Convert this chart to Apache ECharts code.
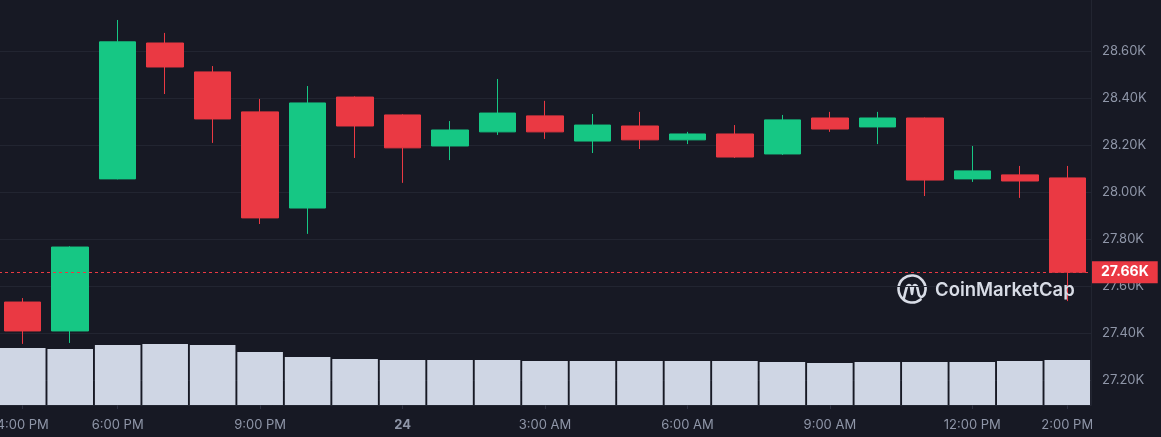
<!DOCTYPE html>
<html>
<head>
<meta charset="utf-8">
<style>
  html, body { margin: 0; padding: 0; background: #171924; }
  #chart { width: 1161px; height: 437px; }
</style>
<script src="https://cdn.jsdelivr.net/npm/echarts@6/dist/echarts.min.js"></script>
</head>
<body>
<div id="chart"></div>
<script>
// ---- data ----
const categories = ['4:00 PM','5:00 PM','6:00 PM','7:00 PM','8:00 PM','9:00 PM','10:00 PM','11:00 PM','24',
  '1:00 AM','2:00 AM','3:00 AM','4:00 AM','5:00 AM','6:00 AM','7:00 AM','8:00 AM','9:00 AM','10:00 AM',
  '11:00 AM','12:00 PM','1:00 PM','2:00 PM'];
const shownLabelIdx = [0, 2, 5, 8, 11, 14, 17, 20, 22];

const opens  = [27533,27410,28057,28635,28512,28342,27933,28405,28329,28197,28257,28325,28218,28282,28223,28248,28163,28316,28278,28316,28057,28074,28061];
const closes = [27410,27767,28640,28533,28312,27891,28380,28282,28189,28265,28337,28257,28286,28223,28248,28150,28308,28269,28316,28052,28091,28048,27660];
const lows   = [27355,27359,28055,28418,28210,27865,27823,28146,28040,28137,28244,28227,28167,28184,28205,28146,28159,28257,28205,27984,28044,27976,27537];
const highs  = [27550,27770,28733,28678,28537,28397,28452,28408,28332,28303,28482,28389,28333,28342,28257,28286,28329,28342,28342,28318,28197,28112,28112];
const volumes = [570,560,600,610,600,530,480,460,450,450,450,440,440,440,440,440,430,420,430,430,430,440,450];

const priceTicks = [27200,27400,27600,27800,28000,28200,28400,28600];
const priceMin = 27095, priceMax = 28818;
const volMax = 4050;
const lastPrice = closes[closes.length - 1];

const UP = '#16c784', DOWN = '#ea3943';
const candleData = opens.map((o, i) => [o, closes[i], lows[i], highs[i]]);

const chart = echarts.init(document.getElementById('chart'));
chart.setOption({
  backgroundColor: '#171924',
  animation: false,
  textStyle: { fontFamily: 'Inter, "Noto Sans", sans-serif' },
  grid: { left: -1, right: 70, top: 0, bottom: 32, containLabel: false, outerBoundsMode: 'none' },
  xAxis: {
    type: 'category',
    data: categories,
    boundaryGap: true,
    axisLine: { show: true, lineStyle: { color: '#222531' } },
    axisTick: {
      show: true, alignWithLabel: true, length: 4,
      interval: (i) => shownLabelIdx.includes(i),
      lineStyle: { color: '#2e3241' }
    },
    axisLabel: {
      interval: (i) => shownLabelIdx.includes(i),
      color: '#8f96a8', fontSize: 13, margin: 14,
      hideOverlap: false,
      formatter: (v) => v === '24' ? '{b|24}' : v,
      rich: { b: { fontWeight: 'bold', fontSize: 13, color: '#8f96a8' } }
    },
    splitLine: { show: false }
  },
  yAxis: [
    {
      type: 'value', position: 'right', scale: true,
      min: priceMin, max: priceMax,
      axisLine: { show: true, lineStyle: { color: '#222531' } },
      axisTick: { show: false, customValues: priceTicks },
      axisLabel: {
        customValues: priceTicks,
        color: '#8f96a8', fontSize: 13, margin: 11,
        formatter: (v) => (v / 1000).toFixed(2) + 'K'
      },
      splitLine: { show: true, lineStyle: { color: '#222531', width: 1 } }
    },
    {
      type: 'value', min: 0, max: volMax, show: false,
      splitLine: { show: false }
    }
  ],
  series: [
    {
      type: 'bar',
      yAxisIndex: 1,
      data: volumes,
      barCategoryGap: '4%',
      itemStyle: { color: '#cfd6e4' },
      z: 1
    },
    {
      type: 'candlestick',
      yAxisIndex: 0,
      data: candleData,
      barWidth: 37,
      itemStyle: {
        color: UP, color0: DOWN,
        borderColor: UP, borderColor0: DOWN,
        borderWidth: 1
      },
      z: 3,
      markLine: {
        silent: true,
        symbol: ['none', 'none'],
        data: [{ yAxis: lastPrice }],
        lineStyle: { color: DOWN, type: [3, 3], width: 1 },
        label: {
          position: 'end', distance: 1,
          formatter: (p) => (p.value / 1000).toFixed(2) + 'K',
          backgroundColor: DOWN, color: '#ffffff',
          fontSize: 14, fontWeight: 'bold',
          padding: [4, 9, 4, 9]
        }
      }
    }
  ],
  graphic: [
    {
      type: 'rect', left: 1092, top: 406, z: 100,
      shape: { width: 69, height: 31 },
      style: { fill: '#171924' }
    },
    {
      type: 'group', left: 896, top: 273, z: 50,
      children: [
        {
          type: 'arc',
          shape: { cx: 15, cy: 15, r: 13.5, startAngle: Math.PI * 0.28, endAngle: Math.PI * 0.12, clockwise: true },
          style: { stroke: '#d8dce6', lineWidth: 2.6, fill: null, lineCap: 'round' }
        },
        {
          type: 'polyline',
          shape: { points: [[7,24],[10,12.5],[12,11],[14,13],[15,20],[16,13],[18,11],[20,12.5],[22,21],[24.5,23],[27,21]], smooth: 0.25 },
          style: { stroke: '#d8dce6', lineWidth: 2.6, fill: null, lineCap: 'round', lineJoin: 'round' }
        }
      ]
    },
    {
      type: 'text', left: 935, top: 281, z: 50,
      style: {
        text: 'CoinMarketCap', fill: '#d8dce6',
        font: '600 18.5px Inter, "Noto Sans", sans-serif'
      }
    }
  ]
});
</script>
</body>
</html>
